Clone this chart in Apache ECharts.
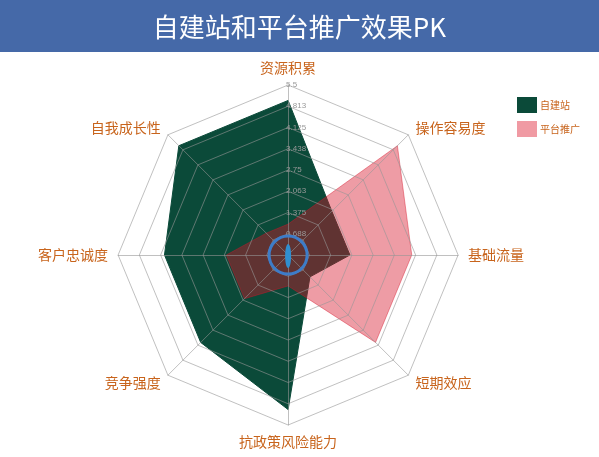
<!DOCTYPE html>
<html><head><meta charset="utf-8">
<script src="https://cdn.jsdelivr.net/npm/echarts@6/dist/echarts.min.js"></script>
<style>html,body{margin:0;padding:0;background:#fff}#c{width:599px;height:457px}</style>
</head><body><div id="c"></div>
<script>
var titleText = '自建站和平台推广效果PK';
var indicatorNames = ['资源积累','自我成长性','客户忠诚度','竞争强度','抗政策风险能力','短期效应','基础流量','操作容易度'];
var axisMax = 5.5;
var seriesNames = ['自建站','平台推广'];
var selfSite = [5, 5, 4, 4, 5, 1, 2, 2];
var platform = [1, 1, 2, 2, 1, 4, 4, 5];

var chart = echarts.init(document.getElementById('c'));
var W = 599, H = 457;
var cx = W * 0.481, cy = H * 0.558;
var nameColor = '#c8641c';
var indicators = indicatorNames.map(function(n, i){
  var o = {name: n, max: axisMax, min: 0};
  if (i === 0) o.axisLabel = {show: true};
  return o;
});
chart.setOption({
  animation: false,
  graphic: [
    {type:'rect', shape:{x:0,y:0,width:W,height:52}, style:{fill:'#4569a8'}, z:0},
    {type:'circle', shape:{cx:cx, cy:cy, r:19}, style:{fill:'none', stroke:'#3d7cc8', lineWidth:3}, z:10},
    {type:'ellipse', shape:{cx:cx, cy:cy+1, rx:3, ry:12}, style:{fill:'#2f8fd0'}, z:10}
  ],
  title: {
    text: titleText, left: 'center', top: 9,
    textStyle: {color:'#ffffff', fontSize: 26, fontWeight: 'normal', fontFamily: 'Noto Sans CJK SC'}
  },
  legend: {
    orient: 'vertical', left: 512, top: 92, itemWidth: 20, itemHeight: 16, itemGap: 8,
    icon: 'rect',
    textStyle: {color: nameColor, fontSize: 10, fontFamily: 'Noto Sans CJK SC', padding: [0,0,0,-2]},
    data: seriesNames
  },
  radar: {
    z: 5,
    center: [cx, cy],
    radius: 170,
    splitNumber: 8,
    shape: 'polygon',
    nameGap: 10,
    axisName: {color: nameColor, fontSize: 14, fontFamily: 'Noto Sans CJK SC'},
    splitArea: {show: false},
    splitLine: {lineStyle: {color: 'rgba(150,150,150,0.6)', width: 1}},
    axisLine: {lineStyle: {color: 'rgba(150,150,150,0.6)', width: 1}},
    axisLabel: {show: false, color: '#999', fontSize: 8, showMinLabel: false, margin: 2, align: 'left',
      formatter: function(v){ return String(+(+v).toFixed(3)); }},
    indicator: indicators
  },
  series: [{
    type: 'radar', z: 2,
    symbol: 'none',
    data: [
      {name: seriesNames[0], value: selfSite,
        itemStyle: {color: '#0b4a39'}, lineStyle: {color: '#0b4a39', width: 1},
        areaStyle: {color: '#0b4a39', opacity: 1}},
      {name: seriesNames[1], value: platform,
        itemStyle: {color: '#f09aa3'}, lineStyle: {color: 'rgba(215,20,40,0.42)', width: 1},
        areaStyle: {color: 'rgba(215,20,40,1)', opacity: 0.42}}
    ],
    label: {show: true, color: '#888', fontSize: 8, position: 'top', distance: 2,
      formatter: function(p){ return p.value >= 4 ? String(p.value) : ''; }}
  }]
});
</script></body></html>
